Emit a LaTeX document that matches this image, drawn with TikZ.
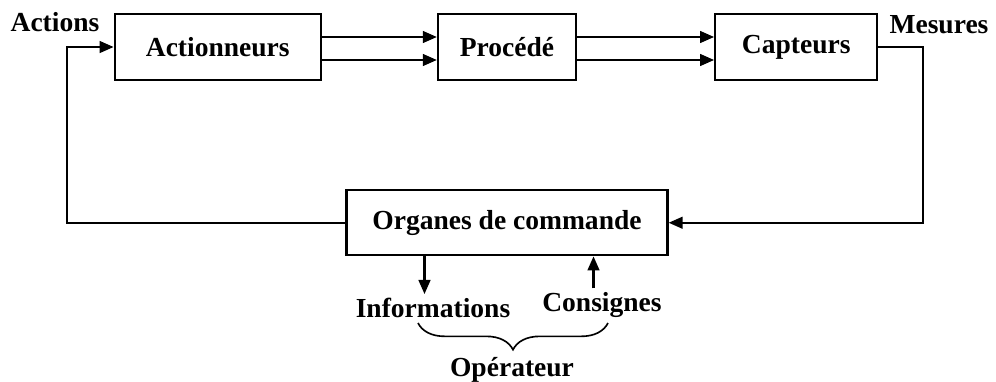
\documentclass[tikz,border=0pt]{standalone}
\usepackage{fontspec}
\setmainfont{Liberation Serif}
\usetikzlibrary{shapes,arrows,arrows.meta,fit,positioning}
\usetikzlibrary{decorations.pathreplacing}

\begin{document}
\begin{tikzpicture}[% styles for the whole loop, units in pixels
      x=0.03cm, y=-0.03cm,
      every node/.style={
        align=center,
        font=\fontsize{23.5}{27}\selectfont\bfseries
      },
      bloc/.style={rectangle,draw=black,line width=1.9pt,minimum height=1.98cm},
      lien/.style={draw,line width=1.9pt},
      >={Triangle[length=12pt,width=10pt]}
    ]
    \useasboundingbox (0,0) rectangle (996,381);
    % chain of blocks
    \node[bloc,minimum width=4.14cm](R2) at (507,47) {Procédé};
    \node[bloc,minimum width=6.18cm](R1)[left=3.45cm of R2]{Actionneurs};
    \node[bloc,minimum width=4.86cm](R3)[right=4.11cm of R2]{Capteurs};
    \node[bloc,minimum width=9.63cm,minimum height=1.95cm](R4)[below=3.24cm of R2]{Organes de commande};
    % labels
    \node(R5) at (433,308) {Informations};
    \node(R6) at (602,305) {Consignes};
    \node(R7) at (512,370) {Opérateur};
    \node(R8) at (55,22) {Actions};
    \node(R9) at (939,25) {Mesures};
    % forward path
    \draw[lien,->] ([yshift=0.3cm]R1.east) -- ([yshift=0.3cm]R2.west);
    \draw[lien,->] ([yshift=-0.39cm]R1.east) -- ([yshift=-0.39cm]R2.west);
    \draw[lien,->] ([yshift=0.3cm]R2.east) -- ([yshift=0.3cm]R3.west);
    \draw[lien,->] ([yshift=-0.39cm]R2.east) -- ([yshift=-0.39cm]R3.west);
    % feedback
    \coordinate (c1) at ([xshift=1.35cm]R3.east);
    \coordinate (c2) at ([xshift=-1.41cm]R1.west);
    \draw[lien,->] (R3.east) -- (c1) |- (R4.east);
    \draw[lien,->] (R4.west) -| (c2) -- (R1.west);
    % operator side
    \coordinate (c3) at ([xshift=-2.475cm]R4.south);
    \coordinate (c4) at ([xshift=2.595cm]R4.south);
    \draw[lien,->] (c3) -- (c3 |- R5.north);
    \draw[lien,->] (c4 |- R6.north) -- (c4);
    \draw[line width=1.4pt,decorate,decoration={brace,mirror,amplitude=0.8cm}] (418,323) -- (608,323);
  \end{tikzpicture}
\end{document}
